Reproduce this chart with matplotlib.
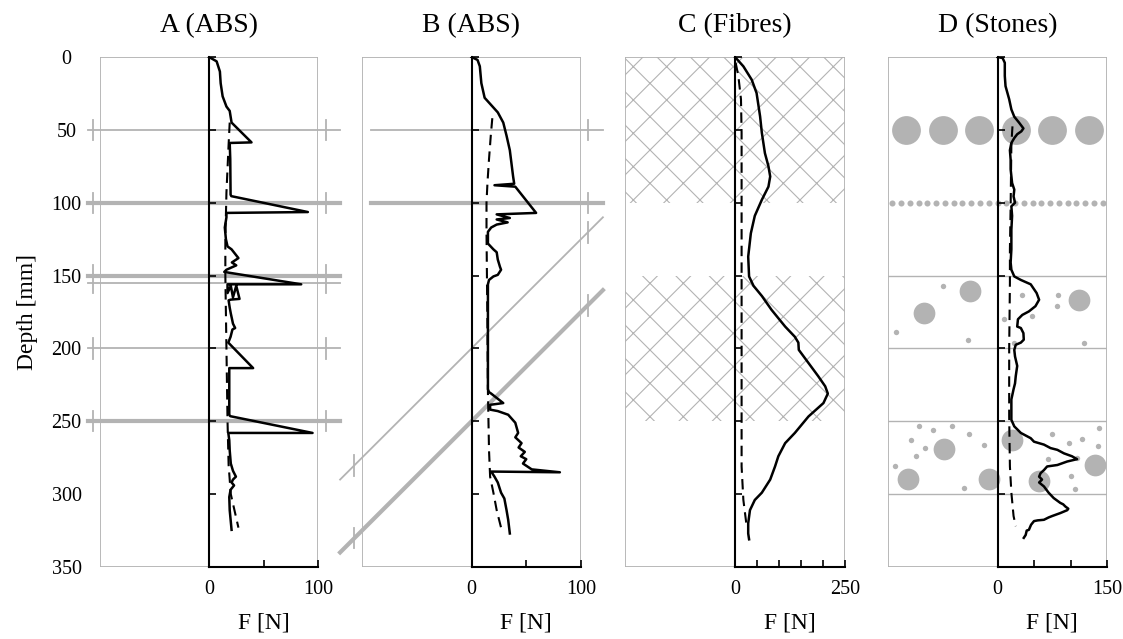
import matplotlib
matplotlib.use('Agg')
import matplotlib.pyplot as plt
from matplotlib.patches import Rectangle

plt.rcParams['font.family'] = ['Liberation Serif', 'DejaVu Serif']
plt.rcParams['hatch.linewidth'] = 0.8

GREY = '#b3b3b3'

titles = ['A (ABS)', 'B (ABS)', 'C (Fibres)', 'D (Stones)']
x_max = [100, 100, 250, 150]
depth_ticks = [0, 50, 100, 150, 200, 250, 300, 350]

# --- A (ABS): measured force (solid) and reference (dashed)
a_force = [0, 7, 10, 10.7, 12.5, 16, 19, 20.7, 39, 19,
           19.5, 19.8, 20.5, 90.7, 16, 16, 14.5, 15.5, 17, 20.7,
           27, 21, 25, 16, 14, 84.6, 17, 17, 20, 22,
           25, 28, 20, 18, 19, 20, 22, 24, 21.5, 19.8,
           17.7, 40.5, 18.6, 18.6, 19.5, 95, 17.7, 18.6, 19, 20,
           22, 24.7, 22, 20.7, 23, 19.8, 18.6, 19, 20.7]
a_depth = [0, 3, 10, 18, 27, 34, 37, 45, 58.6, 59,
           70, 94.5, 95.5, 106.4, 107, 110, 117, 125, 130, 132,
           138, 141, 143, 146, 147.5, 156, 156, 162, 157, 165,
           157, 166, 166.5, 167, 172, 176, 183, 186, 187, 192,
           196, 213.5, 213.5, 245.5, 246.5, 258, 258, 263, 270, 279,
           284, 288, 290, 292, 294, 297, 302, 311, 324.5]
a_ref_force = [19, 18, 16, 15, 15, 16, 17, 18, 20, 27]
a_ref_depth = [45, 60, 93, 125, 150, 200, 250, 280, 300, 323]
a_sheet_depth = [50, 100, 150, 155, 200, 250]
a_sheet_lw = [1.3, 3, 3, 1.3, 1.3, 3]

# --- B (ABS)
b_force = [0, 5.5, 7.6, 9, 12, 18, 24, 29, 32, 35,
           36.5, 38, 39, 21, 40, 59, 23, 35, 23, 33,
           23, 18, 15, 15, 15, 20, 23, 24, 26, 27,
           24, 20, 16, 15, 15, 15, 16, 18, 29, 17,
           17, 24, 33.5, 40, 42.6, 40, 45.7, 43, 48.7, 45,
           50, 47, 55, 80.7, 18, 21, 24, 27, 30, 32,
           33.5, 35]
b_depth = [0, 2, 6.4, 18, 28, 33, 38, 45, 54, 64,
           73, 82, 87, 88, 89, 107, 108, 110.5, 111.5, 113.5,
           115, 117, 120, 123, 128, 132, 134, 139, 144, 146,
           149.5, 150.6, 153, 156, 201, 228, 230, 231, 237.5, 238.7,
           242, 243, 245.5, 251, 258, 261, 265, 268, 271, 274,
           276, 279, 283, 285, 284.5, 288, 292, 299, 303, 311,
           317.6, 327]
b_ref_force = [19, 17.6, 16, 14.6, 13.7, 13.7, 14.5, 15, 16, 17, 20, 23, 27]
b_ref_depth = [42, 54, 70, 86, 100, 120, 180, 230, 270, 288, 299, 311, 323]
b_sheet_depth = [50, 100]
b_sheet_lw = [1.3, 3]
# inclined sheets: end points (F, depth)
b_tilt_x = [-120, 120]
b_tilt_thin = [290, 110]
b_tilt_thick = [340, 160]

# --- C (Fibres)
c_force = [0, 19, 38, 49, 57, 61, 68, 76, 80, 76,
           61, 45, 36, 30, 32, 42, 61, 83, 114, 136,
           144, 145, 167, 189, 205, 211, 201, 167, 136, 114,
           98.5, 91, 80, 61, 45, 34, 30, 30, 32]
c_depth = [0, 6.4, 15.6, 24.7, 40.7, 52, 66, 75, 82, 89,
           98, 109, 121, 137, 150.6, 157, 164, 173.5, 185, 192,
           196, 201, 210, 219, 226, 231, 237.5, 246.7, 258, 265,
           274, 281, 290, 299, 304, 311, 320, 327, 331]
c_ref_force = [1.5, 7.6, 13.6, 15, 15, 15, 15, 15, 15, 19, 26.5]
c_ref_depth = [4, 13, 29, 52, 86.5, 132, 201, 246.7, 281, 304, 322]
c_fibre_top = [0, 150]
c_fibre_bottom = [100, 250]

# --- D (Stones)
d_force = [0, 7, 10, 10, 11, 16, 19, 23, 29.5, 35.5,
           32.7, 27, 23, 19, 17, 18, 18, 20, 23, 22,
           24, 19, 20, 19, 19, 18, 19, 23, 32, 45.5,
           53.6, 57, 52, 43, 34, 28, 27, 32, 35.5, 36,
           32, 25, 23, 24, 27, 25, 24, 22, 19, 19,
           19, 23, 32, 45.5, 50, 63.6, 72.7, 82, 91, 102,
           109, 95.5, 82, 68, 63.6, 59, 57, 61, 57, 63.6,
           70, 77, 86, 90, 93, 97, 95.5, 86, 75, 70,
           63.6, 55, 50, 46, 43, 40, 38.6, 36]
d_depth = [0, 0.7, 4, 13, 20, 29, 36, 41, 45, 49,
           51, 53, 55.6, 59, 64, 70.5, 77, 86.5, 91, 95.6,
           100, 102.5, 109, 118.5, 132, 141, 146, 150.6, 153, 156,
           162, 166.6, 171, 174.6, 177, 180, 185, 186, 189.5, 194,
           196, 197.5, 201, 205.5, 212, 219, 224, 228, 235, 242,
           249, 253.5, 258, 261.6, 264, 266, 268.4, 269.6, 272, 274,
           276, 277.6, 280, 281, 283.5, 285.6, 288, 290, 292, 294.7,
           299, 302.7, 306, 307, 308.5, 310, 311, 313, 315, 316,
           317.6, 318, 318.5, 321, 324.5, 325, 328, 330]
d_ref_force = [20.5, 19, 18, 17, 17, 16, 16, 17, 19, 22, 25]
d_ref_depth = [47.6, 60, 102.5, 132, 155, 201, 246.7, 281, 299, 315, 322]
d_layer_lines = [150, 200, 250, 300]
d_row_x = [-125, -75, -25, 25, 75, 125]
d_row_depth = 50
d_gravel_x = [-144, -132, -120, -108, -96, -84, -72, -60, -48, -36, -24, -12, 0,
              12, 24, 36, 48, 60, 72, 84, 96, 108, 120, 132, 144]
d_gravel_depth = 100
d_big_x = [-37, -101, 111, -73.6, -122, -11, 19.5, 133, 57]
d_big_depth = [160.6, 176, 167, 269, 289.5, 289.5, 263, 280, 291]
d_small_x = [-75, -139.5, -40.5, 34, 82.7, 82, 47, 9.5, 118, 22.7,
             -108, -88, -63, -39.5, -118, -100, -19, -112, -141, -45.5,
             75, 98.6, 116, 138.6, 137, 69.5, 109.5, 101, 106]
d_small_depth = [157, 189, 194, 163, 163, 171, 178, 180, 196.6, 196,
                 253, 256, 253, 258.6, 262.5, 268, 266, 274, 281, 296,
                 259, 264.8, 262, 254.5, 267, 276, 275, 287.6, 296.8]

positions = [[100 / 1123, 72 / 639, 218 / 1123, 510 / 639],
             [362 / 1123, 72 / 639, 219 / 1123, 510 / 639],
             [625 / 1123, 72 / 639, 220 / 1123, 510 / 639],
             [888 / 1123, 72 / 639, 219 / 1123, 510 / 639]]

fig = plt.figure(figsize=(11.23, 6.39), dpi=100)
axes = [fig.add_axes(p) for p in positions]


def style_axes(ax, xm, title):
    ax.set_xlim(-xm, xm)
    ax.set_ylim(350, 0)
    ax.add_patch(Rectangle((0, 0), 1, 1, transform=ax.transAxes, fill=False,
                           edgecolor=GREY, lw=1.3, zorder=0.5))
    ax.spines['top'].set_visible(False)
    ax.spines['right'].set_visible(False)
    ax.spines['left'].set_position(('data', 0))
    ax.spines['left'].set_linewidth(1.5)
    ax.spines['bottom'].set_bounds(0, xm)
    ax.spines['bottom'].set_linewidth(1.5)
    ticks = list(range(0, xm + 1, 50))
    ax.set_xticks(ticks)
    ax.set_xticklabels([str(t) if t in (0, xm) else '' for t in ticks])
    ax.set_yticks(depth_ticks)
    ax.tick_params(axis='x', direction='in', length=5, width=1.2, labelsize=14.5, pad=9)
    ax.tick_params(axis='y', direction='in', length=5, width=1.2, labelleft=False)
    ax.set_title(title, fontsize=20, pad=18)
    ax.set_xlabel('F [N]', fontsize=17)
    ax.xaxis.set_label_coords(0.75, -0.09)


def break_mark(ax, x, d0, d1):
    ax.plot([x, x], [d0, d1], color=GREY, lw=1.3, clip_on=False, zorder=1.5)


for ax, xm, t in zip(axes, x_max, titles):
    style_axes(ax, xm, t)

line_kw = dict(color='black', lw=1.8, zorder=4)
dash_kw = dict(color='black', lw=1.5, ls=(0, (5, 3)), zorder=4)

# A
ax = axes[0]
for d, lw in zip(a_sheet_depth, a_sheet_lw):
    ax.plot([-111, 120], [d, d], color=GREY, lw=lw, clip_on=False, zorder=1.5)
for d0, d1 in [(43, 57), (93, 107), (143, 162), (193, 207), (243, 257)]:
    break_mark(ax, -106, d0, d1)
    break_mark(ax, 107, d0, d1)
ax.plot(a_ref_force, a_ref_depth, **dash_kw)
ax.plot(a_force, a_depth, **line_kw)
sec = ax.secondary_yaxis('left')
sec.set_yticks(depth_ticks)
sec.tick_params(length=0, pad=24, labelsize=14.5)
for lab in sec.get_yticklabels():
    lab.set_horizontalalignment('center')
sec.spines['left'].set_visible(False)
sec.set_ylabel('Depth [mm]', fontsize=17, labelpad=10)

# B
ax = axes[1]
for d, lw in zip(b_sheet_depth, b_sheet_lw):
    ax.plot([-92, 120], [d, d], color=GREY, lw=lw, clip_on=False, zorder=1.5)
for d0, d1 in [(43, 57), (93, 107)]:
    break_mark(ax, 106, d0, d1)
ax.plot(b_tilt_x, b_tilt_thin, color=GREY, lw=1.3, clip_on=False, zorder=1.5)
ax.plot(b_tilt_x, b_tilt_thick, color=GREY, lw=3, clip_on=False, zorder=1.5)
for x, d in [(-107, 280.3), (106, 120.5), (-107, 330.3), (106, 170.5)]:
    break_mark(ax, x, d - 7, d + 7)
ax.plot(b_ref_force, b_ref_depth, **dash_kw)
ax.plot(b_force, b_depth, **line_kw)

# C
ax = axes[2]
for top, bot in zip(c_fibre_top, c_fibre_bottom):
    ax.axhspan(top, bot, facecolor='none', edgecolor=GREY, hatch='x', lw=0, zorder=1)
ax.plot(c_ref_force, c_ref_depth, **dash_kw)
ax.plot(c_force, c_depth, **line_kw)

# D
ax = axes[3]
for d in d_layer_lines:
    ax.axhline(d, color=GREY, lw=1.0, zorder=1.5)
ax.scatter(d_row_x, [d_row_depth] * len(d_row_x), s=430, color=GREY, lw=0, zorder=1)
ax.scatter(d_gravel_x, [d_gravel_depth] * len(d_gravel_x), s=19, color=GREY, lw=0, zorder=1)
ax.scatter(d_big_x, d_big_depth, s=245, color=GREY, lw=0, zorder=1)
ax.scatter(d_small_x, d_small_depth, s=15, color=GREY, lw=0, zorder=1)
ax.plot(d_ref_force, d_ref_depth, **dash_kw)
ax.plot(d_force, d_depth, **line_kw)

fig.savefig('out.png', dpi=100)
